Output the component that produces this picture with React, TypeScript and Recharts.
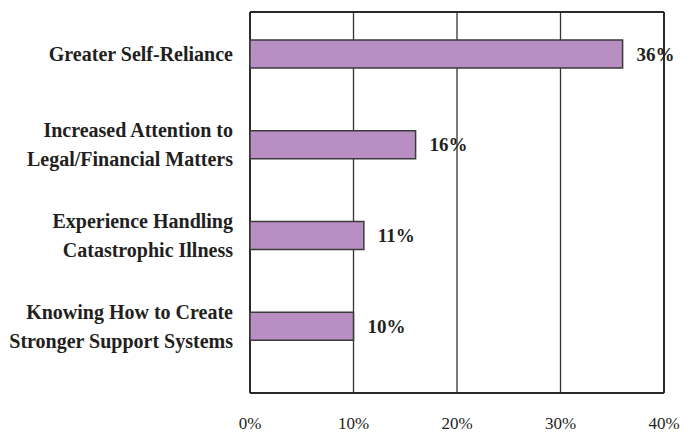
import { BarChart, Bar, XAxis, YAxis, CartesianGrid, LabelList } from "recharts";

const categories = [
  ["Greater Self-Reliance"],
  ["Increased Attention to", "Legal/Financial Matters"],
  ["Experience Handling", "Catastrophic Illness"],
  ["Knowing How to Create", "Stronger Support Systems"],
];
const shares = [36, 16, 11, 10];
const xTicks = [0, 10, 20, 30, 40];

const data = categories.map((lines, i) => ({
  name: lines.join("\n"),
  value: shares[i],
}));

const FONT = "'Liberation Serif', 'Times New Roman', serif";
const INK = "#231f20";

function CategoryTick(props: any) {
  const { x, y, payload } = props;
  const lines: string[] = String(payload.value).split("\n");
  const gap = 28.6;
  const start = -((lines.length - 1) * gap) / 2 + 6.6;
  return (
    <text
      x={x}
      y={y}
      textAnchor="end"
      fontFamily={FONT}
      fontWeight="bold"
      fontSize={20}
      fill={INK}
    >
      {lines.map((l, i) => (
        <tspan key={i} x={x} dy={i === 0 ? start : gap}>
          {l}
        </tspan>
      ))}
    </text>
  );
}

// outer frame of the plot area, taken from the chart's own offset
const frameRows = ({ offset }: any) => [offset.top, offset.top + offset.height];
const frameCols = ({ offset }: any) => [offset.left, offset.left + offset.width];

export default function App() {
  return (
    <div style={{ position: "absolute", left: 0, top: 0, background: "#fff" }}>
      <BarChart
        width={693}
        height={434}
        data={data}
        layout="vertical"
        margin={{ top: 12, right: 29, bottom: 0, left: 0 }}
      >
        <CartesianGrid horizontal={false} stroke="#333" strokeWidth={1.3} />
        <CartesianGrid
          horizontalCoordinatesGenerator={frameRows}
          verticalCoordinatesGenerator={frameCols}
          stroke="#2a2a2a"
          strokeWidth={2}
          fill="none"
        />
        <XAxis
          type="number"
          domain={[0, 40]}
          ticks={xTicks}
          tickFormatter={(v) => `${v}%`}
          height={41}
          tickLine={false}
          tickSize={0}
          tickMargin={24}
          axisLine={false}
          tick={{ fontFamily: FONT, fontSize: 17, fill: INK }}
          interval={0}
        />
        <YAxis
          type="category"
          dataKey="name"
          width={250}
          tickLine={false}
          tickSize={0}
          tickMargin={17}
          axisLine={false}
          padding={{ top: -3, bottom: 21 }}
          tick={<CategoryTick />}
          interval={0}
        />
        <Bar
          dataKey="value"
          barSize={28}
          fill="#b98fc3"
          stroke="#3a3a3a"
          strokeWidth={1.5}
          isAnimationActive={false}
        >
          <LabelList
            dataKey="value"
            position="right"
            offset={14}
            formatter={(v: any) => `${v}%`}
            style={{ fontFamily: FONT, fontWeight: "bold", fontSize: 19, fill: INK }}
          />
        </Bar>
      </BarChart>
    </div>
  );
}
